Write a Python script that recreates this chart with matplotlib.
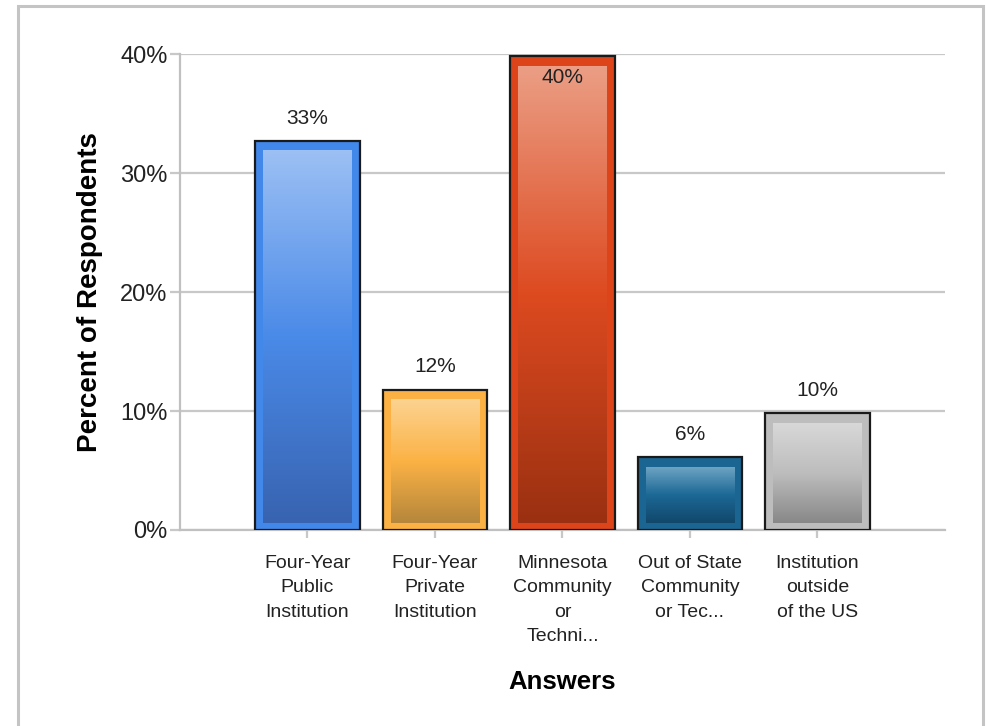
import numpy as np
import matplotlib
matplotlib.use("Agg")
import matplotlib.pyplot as plt
from matplotlib.patches import Rectangle
from matplotlib.colors import to_rgb

# survey answers and share of respondents (%)
categories = [
    "Four-Year\nPublic\nInstitution",
    "Four-Year\nPrivate\nInstitution",
    "Minnesota\nCommunity\nor\nTechni...",
    "Out of State\nCommunity\nor Tec...",
    "Institution\noutside\nof the US",
]
percents = [32.7, 11.8, 39.8, 6.1, 9.8]

# outer colour, then inner gradient stops (top, middle, bottom)
outer_colors = ["#4287ea", "#fbb144", "#dd441a", "#1b6592", "#bdbdbd"]
grad_stops = [
    ("#9cc0f4", "#4a8ae8", "#3863b0"),
    ("#fdd391", "#fbb245", "#b5863c"),
    ("#eb9e85", "#dd4a20", "#9a3011"),
    ("#6da3c3", "#1c6896", "#11476a"),
    ("#d8d8d8", "#bdbdbd", "#888888"),
]

plt.rcParams["font.family"] = ["Liberation Sans", "DejaVu Sans"]

W, H = 987, 726
fig = plt.figure(figsize=(W / 100, H / 100), dpi=100)
ax = fig.add_axes([180 / W, 1 - 530 / H, 765 / W, 476 / H])

x = np.arange(1, len(categories) + 1)
bw = 0.82
px_x = 765 / 6.0      # pixels per x unit
px_y = 476 / 40.0     # pixels per y unit


def gradient(stops, n=256):
    top, mid, bot = (np.array(to_rgb(c)) for c in stops)
    t = np.linspace(0, 1, n)[:, None]
    upper = top + (mid - top) * np.clip(t / 0.5, 0, 1)
    lower = mid + (bot - mid) * np.clip((t - 0.5) / 0.5, 0, 1)
    img = np.where(t < 0.5, upper, lower)
    return img[:, None, :]


for xi, v, oc, gs in zip(x, percents, outer_colors, grad_stops):
    ax.add_patch(Rectangle((xi - bw / 2, 0), bw, v, facecolor=oc,
                           edgecolor="#1a1a1a", linewidth=1.6, zorder=3))
    ix = 8 / px_x
    itop = 10 / px_y
    ibot = 7 / px_y
    ax.imshow(gradient(gs), extent=[xi - bw / 2 + ix, xi + bw / 2 - ix,
                                    ibot, v - itop],
              aspect="auto", origin="upper", zorder=4)
    label = f"{v:.0f}%"
    if v > 37:
        ax.text(xi, v - 1.8, label, ha="center", va="center",
                fontsize=15, color="#222222", zorder=5)
    else:
        ax.text(xi, v + 1.9, label, ha="center", va="center",
                fontsize=15, color="#222222", zorder=5)

ax.set_xlim(0, 6)
ax.set_ylim(0, 40)
ax.set_yticks([0, 10, 20, 30, 40])
ax.set_yticklabels([f"{t}%" for t in [0, 10, 20, 30, 40]], fontsize=17,
                   color="#222222")
ax.set_xticks(x)
ax.set_xticklabels(categories, fontsize=14, color="#222222",
                   multialignment="center", linespacing=1.56)

ax.grid(axis="y", color="#c8c8c8", linewidth=1.6, zorder=0)
ax.set_axisbelow(True)
for s in ["top", "right"]:
    ax.spines[s].set_visible(False)
for s in ["left", "bottom"]:
    ax.spines[s].set_color("#c0c0c0")
    ax.spines[s].set_linewidth(1.6)
ax.tick_params(axis="y", length=7, width=1.6, color="#c8c8c8", pad=2)
ax.tick_params(axis="x", length=6, width=1.6, color="#c8c8c8", pad=12)

ax.set_ylabel("Percent of Respondents", fontsize=20, fontweight="bold",
              labelpad=12)
ax.set_xlabel("Answers", fontsize=18.5, fontweight="bold", labelpad=18)

# light grey frame round the whole chart
fig.add_artist(Rectangle((18 / W, -0.02), (983 - 18) / W, 1 - 6 / H + 0.02,
                         transform=fig.transFigure, fill=False,
                         edgecolor="#c4c4c4", linewidth=2.2))

fig.savefig("out.png", dpi=100)
